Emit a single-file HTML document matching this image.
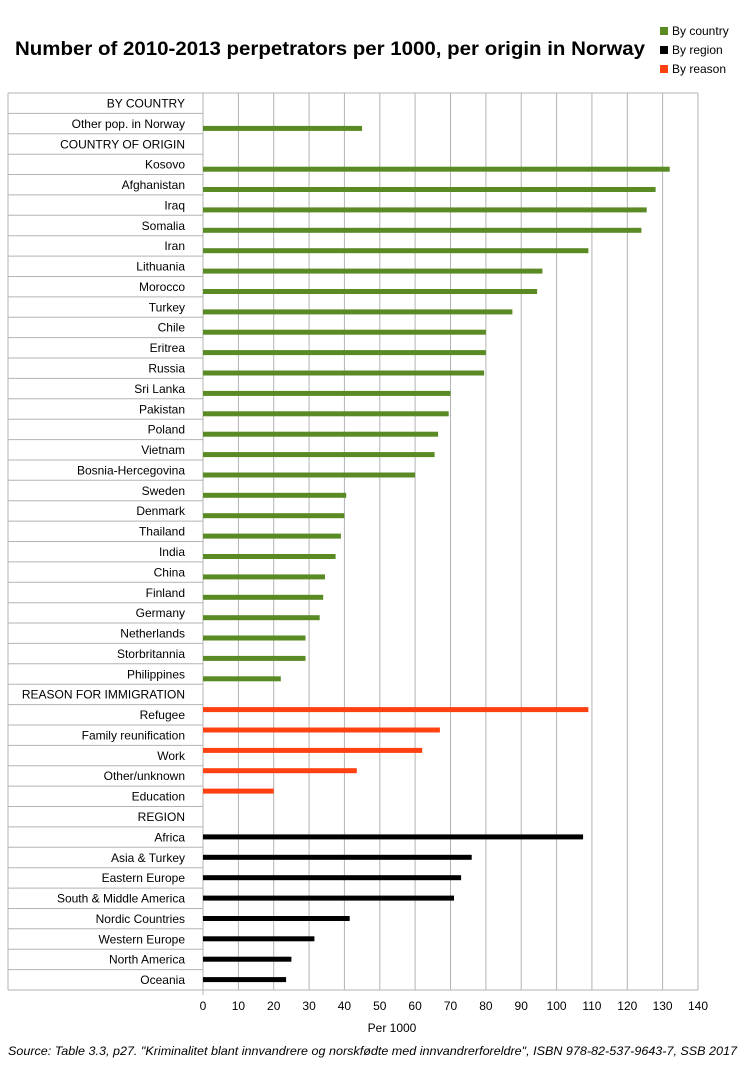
<!DOCTYPE html>
<html><head><meta charset="utf-8"><style>body{margin:0;background:#fff}svg{display:block}</style></head><body>
<svg width="742" height="1071" xmlns="http://www.w3.org/2000/svg" font-family="Liberation Sans, sans-serif">
<rect width="742" height="1071" fill="#fff"/>
<text x="15" y="55" font-size="19" font-weight="bold" textLength="630" lengthAdjust="spacingAndGlyphs">Number of 2010-2013 perpetrators per 1000, per origin in Norway</text>
<rect x="660" y="27" width="8" height="8" fill="#5a8a24"/><text x="672" y="35" font-size="12">By country</text>
<rect x="660" y="46" width="8" height="8" fill="#000"/><text x="672" y="54" font-size="12">By region</text>
<rect x="660" y="65" width="8" height="8" fill="#ff4010"/><text x="672" y="73" font-size="12">By reason</text>
<g stroke="#b3b3b3" stroke-width="1">
<line x1="203" y1="93" x2="203" y2="995"/><line x1="238.4" y1="93" x2="238.4" y2="990"/><line x1="273.7" y1="93" x2="273.7" y2="990"/><line x1="309.1" y1="93" x2="309.1" y2="990"/><line x1="344.4" y1="93" x2="344.4" y2="990"/><line x1="379.8" y1="93" x2="379.8" y2="990"/><line x1="415.1" y1="93" x2="415.1" y2="990"/><line x1="450.5" y1="93" x2="450.5" y2="990"/><line x1="485.9" y1="93" x2="485.9" y2="990"/><line x1="521.2" y1="93" x2="521.2" y2="990"/><line x1="556.6" y1="93" x2="556.6" y2="990"/><line x1="591.9" y1="93" x2="591.9" y2="990"/><line x1="627.3" y1="93" x2="627.3" y2="990"/><line x1="662.6" y1="93" x2="662.6" y2="990"/><line x1="698" y1="93" x2="698" y2="990"/>
<line x1="8" y1="93" x2="698" y2="93"/><line x1="8" y1="93" x2="8" y2="990"/><line x1="8" y1="990" x2="698" y2="990"/>
<line x1="8" y1="113.4" x2="203" y2="113.4"/><line x1="8" y1="133.8" x2="203" y2="133.8"/><line x1="8" y1="154.2" x2="203" y2="154.2"/><line x1="8" y1="174.5" x2="203" y2="174.5"/><line x1="8" y1="194.9" x2="203" y2="194.9"/><line x1="8" y1="215.3" x2="203" y2="215.3"/><line x1="8" y1="235.7" x2="203" y2="235.7"/><line x1="8" y1="256.1" x2="203" y2="256.1"/><line x1="8" y1="276.5" x2="203" y2="276.5"/><line x1="8" y1="296.9" x2="203" y2="296.9"/><line x1="8" y1="317.2" x2="203" y2="317.2"/><line x1="8" y1="337.6" x2="203" y2="337.6"/><line x1="8" y1="358" x2="203" y2="358"/><line x1="8" y1="378.4" x2="203" y2="378.4"/><line x1="8" y1="398.8" x2="203" y2="398.8"/><line x1="8" y1="419.2" x2="203" y2="419.2"/><line x1="8" y1="439.6" x2="203" y2="439.6"/><line x1="8" y1="460" x2="203" y2="460"/><line x1="8" y1="480.3" x2="203" y2="480.3"/><line x1="8" y1="500.7" x2="203" y2="500.7"/><line x1="8" y1="521.1" x2="203" y2="521.1"/><line x1="8" y1="541.5" x2="203" y2="541.5"/><line x1="8" y1="561.9" x2="203" y2="561.9"/><line x1="8" y1="582.3" x2="203" y2="582.3"/><line x1="8" y1="602.7" x2="203" y2="602.7"/><line x1="8" y1="623" x2="203" y2="623"/><line x1="8" y1="643.4" x2="203" y2="643.4"/><line x1="8" y1="663.8" x2="203" y2="663.8"/><line x1="8" y1="684.2" x2="203" y2="684.2"/><line x1="8" y1="704.6" x2="203" y2="704.6"/><line x1="8" y1="725" x2="203" y2="725"/><line x1="8" y1="745.4" x2="203" y2="745.4"/><line x1="8" y1="765.8" x2="203" y2="765.8"/><line x1="8" y1="786.1" x2="203" y2="786.1"/><line x1="8" y1="806.5" x2="203" y2="806.5"/><line x1="8" y1="826.9" x2="203" y2="826.9"/><line x1="8" y1="847.3" x2="203" y2="847.3"/><line x1="8" y1="867.7" x2="203" y2="867.7"/><line x1="8" y1="888.1" x2="203" y2="888.1"/><line x1="8" y1="908.5" x2="203" y2="908.5"/><line x1="8" y1="928.8" x2="203" y2="928.8"/><line x1="8" y1="949.2" x2="203" y2="949.2"/><line x1="8" y1="969.6" x2="203" y2="969.6"/>
</g>
<g font-size="12" text-anchor="end">
<text x="185" y="107.5">BY COUNTRY</text><text x="185" y="127.9">Other pop. in Norway</text><text x="185" y="148.3">COUNTRY OF ORIGIN</text>
<text x="185" y="168.7">Kosovo</text><text x="185" y="189">Afghanistan</text><text x="185" y="209.4">Iraq</text><text x="185" y="229.8">Somalia</text><text x="185" y="250.2">Iran</text><text x="185" y="270.6">Lithuania</text><text x="185" y="291">Morocco</text><text x="185" y="311.4">Turkey</text><text x="185" y="331.7">Chile</text><text x="185" y="352.1">Eritrea</text><text x="185" y="372.5">Russia</text><text x="185" y="392.9">Sri Lanka</text><text x="185" y="413.3">Pakistan</text><text x="185" y="433.7">Poland</text><text x="185" y="454.1">Vietnam</text><text x="185" y="474.5">Bosnia-Hercegovina</text><text x="185" y="494.8">Sweden</text><text x="185" y="515.2">Denmark</text><text x="185" y="535.6">Thailand</text><text x="185" y="556">India</text><text x="185" y="576.4">China</text><text x="185" y="596.8">Finland</text><text x="185" y="617.2">Germany</text><text x="185" y="637.5">Netherlands</text><text x="185" y="657.9">Storbritannia</text><text x="185" y="678.3">Philippines</text>
<text x="185" y="698.7">REASON FOR IMMIGRATION</text><text x="185" y="719.1">Refugee</text><text x="185" y="739.5">Family reunification</text><text x="185" y="759.9">Work</text><text x="185" y="780.2">Other/unknown</text><text x="185" y="800.6">Education</text>
<text x="185" y="821">REGION</text><text x="185" y="841.4">Africa</text><text x="185" y="861.8">Asia &amp; Turkey</text><text x="185" y="882.2">Eastern Europe</text><text x="185" y="902.6">South &amp; Middle America</text><text x="185" y="923">Nordic Countries</text><text x="185" y="943.3">Western Europe</text><text x="185" y="963.7">North America</text><text x="185" y="984.1">Oceania</text>
</g>
<g fill="#5a8a24">
<rect x="203" y="125.9" width="159.1" height="5"/><rect x="203" y="166.7" width="466.7" height="5"/><rect x="203" y="187" width="452.6" height="5"/><rect x="203" y="207.4" width="443.7" height="5"/><rect x="203" y="227.8" width="438.4" height="5"/><rect x="203" y="248.2" width="385.4" height="5"/><rect x="203" y="268.6" width="339.4" height="5"/><rect x="203" y="289" width="334.1" height="5"/><rect x="203" y="309.4" width="309.4" height="5"/><rect x="203" y="329.7" width="282.9" height="5"/><rect x="203" y="350.1" width="282.9" height="5"/><rect x="203" y="370.5" width="281.1" height="5"/><rect x="203" y="390.9" width="247.5" height="5"/><rect x="203" y="411.3" width="245.7" height="5"/><rect x="203" y="431.7" width="235.1" height="5"/><rect x="203" y="452.1" width="231.6" height="5"/><rect x="203" y="472.5" width="212.1" height="5"/><rect x="203" y="492.8" width="143.2" height="5"/><rect x="203" y="513.2" width="141.4" height="5"/><rect x="203" y="533.6" width="137.9" height="5"/><rect x="203" y="554" width="132.6" height="5"/><rect x="203" y="574.4" width="122" height="5"/><rect x="203" y="594.8" width="120.2" height="5"/><rect x="203" y="615.2" width="116.7" height="5"/><rect x="203" y="635.5" width="102.5" height="5"/><rect x="203" y="655.9" width="102.5" height="5"/><rect x="203" y="676.3" width="77.8" height="5"/>
</g>
<g fill="#ff4010">
<rect x="203" y="707.1" width="385.4" height="5"/><rect x="203" y="727.5" width="236.9" height="5"/><rect x="203" y="747.9" width="219.2" height="5"/><rect x="203" y="768.2" width="153.8" height="5"/><rect x="203" y="788.6" width="70.7" height="5"/>
</g>
<g fill="#000">
<rect x="203" y="834.4" width="380.1" height="5"/><rect x="203" y="854.8" width="268.7" height="5"/><rect x="203" y="875.2" width="258.1" height="5"/><rect x="203" y="895.6" width="251" height="5"/><rect x="203" y="916" width="146.7" height="5"/><rect x="203" y="936.3" width="111.4" height="5"/><rect x="203" y="956.7" width="88.4" height="5"/><rect x="203" y="977.1" width="83.1" height="5"/>
</g>
<g font-size="12" text-anchor="middle">
<text x="203" y="1010">0</text><text x="238.4" y="1010">10</text><text x="273.7" y="1010">20</text><text x="309.1" y="1010">30</text><text x="344.4" y="1010">40</text><text x="379.8" y="1010">50</text><text x="415.1" y="1010">60</text><text x="450.5" y="1010">70</text><text x="485.9" y="1010">80</text><text x="521.2" y="1010">90</text><text x="556.6" y="1010">100</text><text x="591.9" y="1010">110</text><text x="627.3" y="1010">120</text><text x="662.6" y="1010">130</text><text x="698" y="1010">140</text>
<text x="392" y="1032">Per 1000</text>
</g>
<text x="8" y="1055" font-size="12" font-style="italic" textLength="729" lengthAdjust="spacingAndGlyphs">Source: Table 3.3, p27.  "Kriminalitet blant innvandrere og norskfødte med innvandrerforeldre", ISBN 978-82-537-9643-7, SSB 2017</text>
</svg>
</body></html>
